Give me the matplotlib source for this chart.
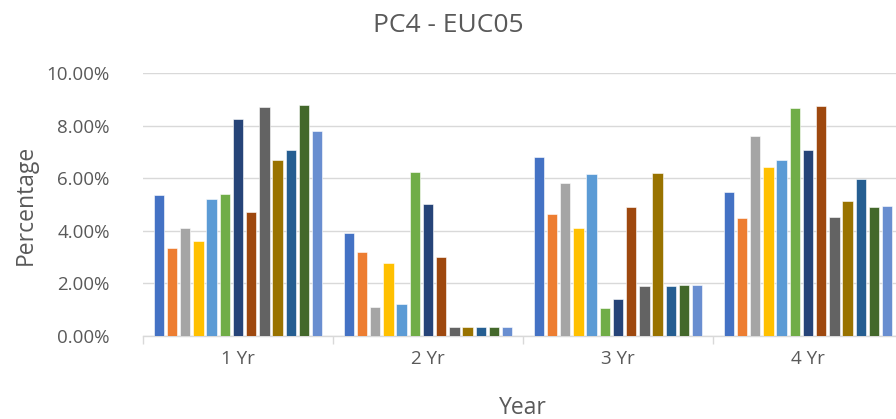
import numpy as np
import matplotlib.pyplot as plt
from matplotlib.ticker import FuncFormatter

# Data (percent values)
categories = ['1 Yr', '2 Yr', '3 Yr', '4 Yr']
values = [
    [5.36, 3.90, 6.81, 5.46],
    [3.35, 3.20, 4.64, 4.49],
    [4.09, 1.11, 5.82, 7.61],
    [3.62, 2.76, 4.09, 6.43],
    [5.21, 1.23, 6.15, 6.70],
    [5.39, 6.23, 1.08, 8.67],
    [8.26, 5.01, 1.42, 7.08],
    [4.70, 3.02, 4.90, 8.73],
    [8.72, 0.34, 1.92, 4.51],
    [6.70, 0.36, 6.21, 5.15],
    [7.08, 0.33, 1.92, 5.98],
    [8.79, 0.33, 1.93, 4.90],
    [7.80, 0.34, 1.93, 4.94],
]
colors = ['#4472C4', '#ED7D31', '#A5A5A5', '#FFC000', '#5B9BD5', '#70AD47',
          '#264478', '#9E480E', '#636363', '#997300', '#255E91', '#43682B',
          '#698ED0']

plt.rcParams['font.family'] = ['Open Sans', 'DejaVu Sans']

fig = plt.figure(figsize=(8.96, 4.19), dpi=100)
ax = fig.add_axes([143 / 896, 83 / 419, 760 / 896, 263 / 419])

n = len(values)
step = 13.2 / 190
width = 10.5 / 190
x = np.arange(len(categories))
for i, vals in enumerate(values):
    offs = (i - (n - 1) / 2) * step
    ax.bar(x + offs, np.array(vals) / 100, width=width, color=colors[i],
           edgecolor='white', linewidth=0.4, zorder=3)

ax.set_xlim(-0.5, len(categories) - 0.5)
ax.set_ylim(0, 0.10)
ax.set_yticks(np.arange(0, 0.101, 0.02))
ax.yaxis.set_major_formatter(FuncFormatter(lambda v, p: f'{v * 100:.2f}%'))
ax.grid(axis='y', color='#D9D9D9', linewidth=1, zorder=0)

ax.set_xticks(x)
ax.set_xticklabels(categories)
ax.set_xticks(np.arange(-0.5, len(categories), 1), minor=True)
ax.tick_params(axis='x', which='major', length=0, pad=10, labelsize=13.5, labelcolor='#595959')
ax.tick_params(axis='x', which='minor', length=6, color='#D9D9D9', width=1)
ax.tick_params(axis='y', length=0, pad=24, labelsize=13.5, labelcolor='#595959')

for s in ['top', 'right', 'left']:
    ax.spines[s].set_visible(False)
ax.spines['bottom'].set_color('#D9D9D9')
ax.spines['bottom'].set_linewidth(1)

ax.set_xlabel('Year', fontsize=16.5, color='#595959', labelpad=20)
ax.set_ylabel('Percentage', fontsize=16.5, color='#595959', labelpad=6)
fig.text(0.5, 1 - 25 / 419, 'PC4 - EUC05', ha='center', va='center', fontsize=19, color='#595959')

fig.savefig('out.png', dpi=100)
